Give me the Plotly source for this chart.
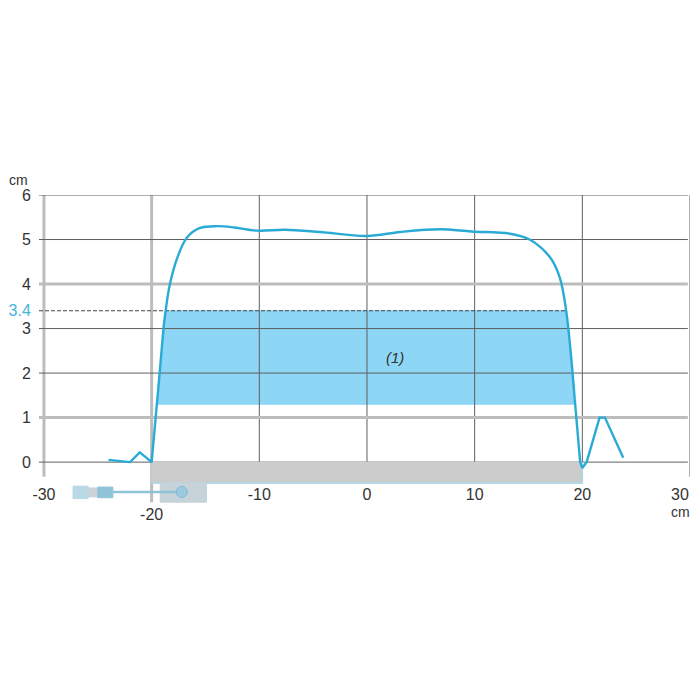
import plotly.graph_objects as go

left_tail_x = [-24.0, -22.8, -22.0, -21.1, -20.0, -19.4, -18.9]
left_tail_y = [0.05, 0.03, 0.0, 0.22, 0.0, 1.6, 3.0]
dome_x = [-18.9, -18.7, -18.3, -17.6, -16.7, -15.5, -13.9, -12.3, -10.2,
          -7.6, -4.4, 0.0, 3.1, 6.8, 9.7, 13.3, 15.1, 17.0, 17.9, 18.5, 19.3]
dome_y = [3.0, 3.4, 4.0, 4.6, 5.05, 5.26, 5.3, 5.27, 5.2,
          5.22, 5.17, 5.08, 5.17, 5.23, 5.18, 5.13, 5.0, 4.6, 4.15, 3.4, 1.4]
right_tail_x = [19.3, 19.8, 20.0, 20.4, 21.6, 22.1, 23.8]
right_tail_y = [1.4, 0.0, -0.13, 0.0, 1.0, 1.0, 0.1]

band_x = [-19.4, -18.9, -18.7, 18.5, 19.3, -19.4]
band_y = [1.3, 3.0, 3.4, 3.4, 1.3, 1.3]
threshold = 3.4
threshold_x = [-30.46, 18.5]

bar_x = [-20, 20, 20, -20, -20]
bar_y = [0, 0, -0.47, -0.47, 0]
sensor_x = [-19.2, -14.9, -14.9, -19.2, -19.2]
sensor_y = [-0.47, -0.47, -0.9, -0.9, -0.47]
cable_x = [-23.6, -17.3]
cable_y = [-0.67, -0.67]
plug_x = [[-27.3, -25.9, -25.9, -27.3, -27.3], [-25.9, -25.0, -25.0, -25.9, -25.9], [-25.0, -23.6, -23.6, -25.0, -25.0]]
plug_y = [[-0.54, -0.54, -0.82, -0.82, -0.54], [-0.58, -0.58, -0.78, -0.78, -0.58], [-0.56, -0.56, -0.8, -0.8, -0.56]]
plug_colors = ["#b9d9e6", "#c9d3d8", "#8fc4d8"]

thick_v = [(-30, -0.33), (-20, -0.9)]
thin_v = [(-10, 0), (0, 0), (10, 0), (20, -0.25), (30, -0.33)]
thick_h = [4, 1]
thin_h = [6, 5, 3, 2, 0]
grid_left, grid_right = -30.46, 29.8

x_ticks = [-30, -20, -10, 0, 10, 20]
x_text = ["-30", "<br>-20", "-10", "0", "10", "20"]
y_ticks = [0, 1, 2, 3, 3.4, 4, 5, 6]
y_text = ["0", "1", "2", "3", "<span style='color:#45b4dc'>3.4</span>", "4", "5", "6"]

BLUE = "#29abd6"
THICK = "#bdbdbd"
THIN = "#5f5f5f"


def line(x, y, color, width, dash="solid", shape="linear"):
    return go.Scatter(x=x, y=y, mode="lines", line=dict(color=color, width=width, dash=dash, shape=shape),
                      hoverinfo="skip", showlegend=False)


def poly(x, y, fill, edge=None):
    return go.Scatter(x=x, y=y, mode="lines", fill="toself", fillcolor=fill,
                      line=dict(color=edge or fill, width=1), hoverinfo="skip", showlegend=False)


fig = go.Figure()
fig.add_trace(poly(band_x, band_y, "#8dd6f5"))
for vx, bottom in thick_v:
    fig.add_trace(line([vx, vx], [6, bottom], THICK, 3))
for vx, bottom in thin_v:
    fig.add_trace(line([vx, vx], [6, bottom], THIN, 1))
for hy in thick_h:
    fig.add_trace(line([grid_left, grid_right], [hy, hy], THICK, 3))
for hy in thin_h:
    fig.add_trace(line([grid_left, grid_right], [hy, hy], THIN, 1))
fig.add_trace(line(threshold_x, [threshold, threshold], "#444444", 1, "4px,2px"))
fig.add_trace(poly(bar_x, bar_y, "#cccccc"))
fig.add_trace(line(bar_x[1:4], bar_y[1:4], "#a9d8ea", 1.5))
fig.add_trace(poly(sensor_x, sensor_y, "#c6d3d8"))
for px, py, pc in zip(plug_x, plug_y, plug_colors):
    fig.add_trace(poly(px, py, pc))
fig.add_trace(line(cable_x, cable_y, "#8fc4d8", 2.5))
fig.add_trace(go.Scatter(x=[-17.2], y=[-0.67], mode="markers", showlegend=False, hoverinfo="skip",
                         marker=dict(size=11, color="#9ccbe0", line=dict(color="#7fb9d3", width=1))))
fig.add_trace(line(left_tail_x, left_tail_y, BLUE, 2.4))
fig.add_trace(line(dome_x, dome_y, BLUE, 2.4, shape="spline"))
fig.add_trace(line(right_tail_x, right_tail_y, BLUE, 2.4))

fig.add_annotation(x=2.6, y=2.34, text="<i>(1)</i>", showarrow=False, font=dict(size=15, color="#333333"))
fig.add_annotation(xref="paper", yref="paper", x=-0.032, y=1.045, xanchor="center", yanchor="middle",
                   text="cm", showarrow=False, font=dict(size=14, color="#333333"))
fig.add_annotation(x=29.06, y=-0.72, text="30", showarrow=False, font=dict(size=16, color="#333333"))
fig.add_annotation(x=29.1, y=-1.13, text="cm", showarrow=False, font=dict(size=14, color="#333333"))

fig.update_layout(
    width=692, height=680, paper_bgcolor="white", plot_bgcolor="white",
    margin=dict(l=31, r=10, t=187, b=168),
    font=dict(family="Liberation Sans, Arial, sans-serif", size=16, color="#333333"),
    xaxis=dict(range=[-30.46, 30.0], tickmode="array", tickvals=x_ticks, ticktext=x_text, showgrid=False,
               zeroline=False, showline=False, ticks="", anchor="free", position=0.115, automargin=False),
    yaxis=dict(range=[-1.3, 6.0], tickmode="array", tickvals=y_ticks, ticktext=y_text, showgrid=False,
               zeroline=False, showline=False, ticks="outside", ticklen=4, tickcolor="rgba(0,0,0,0)",
               automargin=False),
)
fig.write_html("out.html")
